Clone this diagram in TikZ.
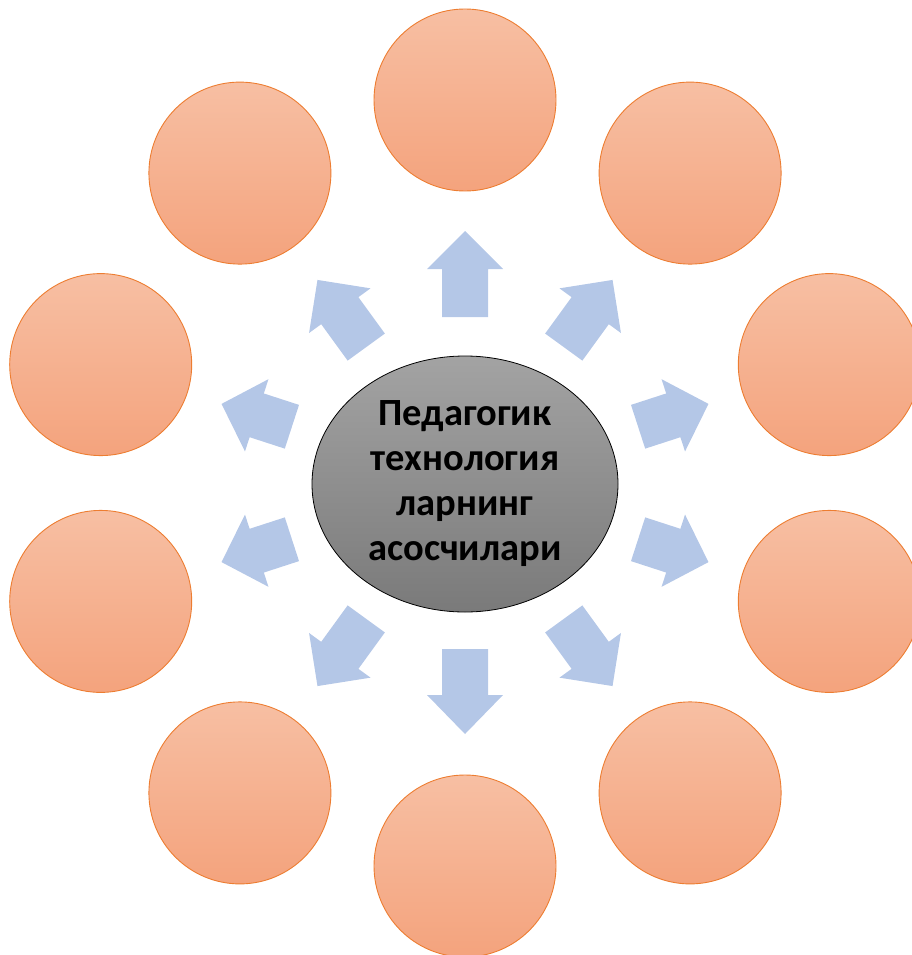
\documentclass[tikz,border=0pt]{standalone}
\usepackage{fontspec}
\setsansfont{Carlito}
\usepackage{tikz}
\usetikzlibrary{shapes.geometric}

\definecolor{petalTop}{RGB}{247,191,163}
\definecolor{petalBot}{RGB}{244,163,125}
\definecolor{petalLine}{RGB}{237,125,49}
\definecolor{coreTop}{RGB}{163,163,163}
\definecolor{coreBot}{RGB}{122,122,122}
\definecolor{arrowBlue}{RGB}{180,199,231}

\tikzset{
  petal/.style={circle, minimum size=182pt, inner sep=0pt, draw=petalLine, line width=0.9pt,
    top color=petalTop, bottom color=petalBot},
  core/.style={ellipse, minimum width=306pt, minimum height=256pt, inner sep=0pt, draw=black, line width=0.8pt,
    top color=coreTop, bottom color=coreBot, align=center,
    font=\sffamily\bfseries\fontsize{38.5}{45}\selectfont},
  blockarrow/.style={fill=arrowBlue, draw=none}
}

\begin{document}
\begin{tikzpicture}[x=1pt,y=1pt,yscale=-1,xscale=1]
\useasboundingbox (0,0) rectangle (911,955);

%Shape: Circles round the core
\node[petal] (top) at (465,100) {};
\node[petal] (topright) at (690.1,173.1) {};
\node[petal] (rightup) at (829.3,364.6) {};
\node[petal] (rightdown) at (829.3,601.4) {};
\node[petal] (botright) at (690.1,792.9) {};
\node[petal] (bot) at (465,866) {};
\node[petal] (botleft) at (239.9,792.9) {};
\node[petal] (leftdown) at (100.7,601.4) {};
\node[petal] (leftup) at (100.7,364.6) {};
\node[petal] (topleft) at (239.9,173.1) {};

%Shape: Ellipse in the middle
\node[core] (centre) at (465,484) {Педагогик\\технология\\ларнинг\\асосчилари};

%Block Arrows, up, down and the four slanted ones
\fill[blockarrow, shift={(465,483)}, rotate=90] (166,-23) -- (212,-23) -- (212,-38) -- (251,0) -- (212,38) -- (212,23) -- (166,23) -- cycle;
\fill[blockarrow, shift={(465,483)}, rotate=54] (168,-23) -- (213,-23) -- (213,-38) -- (251,0) -- (213,38) -- (213,23) -- (168,23) -- cycle;
\fill[blockarrow, shift={(465,483)}, rotate=-54] (168,-23) -- (213,-23) -- (213,-38) -- (251,0) -- (213,38) -- (213,23) -- (168,23) -- cycle;
\fill[blockarrow, shift={(465,483)}, rotate=-90] (166,-23) -- (214,-23) -- (214,-38) -- (252,0) -- (214,38) -- (214,23) -- (166,23) -- cycle;
\fill[blockarrow, shift={(465,483)}, rotate=-126] (168,-23) -- (213,-23) -- (213,-38) -- (251,0) -- (213,38) -- (213,23) -- (168,23) -- cycle;
\fill[blockarrow, shift={(465,483)}, rotate=126] (168,-23) -- (213,-23) -- (213,-38) -- (251,0) -- (213,38) -- (213,23) -- (168,23) -- cycle;

%Block Arrows, the four flatter ones (shorter)
\fill[blockarrow, shift={(465,483)}, rotate=18] (182,-23) -- (219,-23) -- (219,-38) -- (256,0) -- (219,38) -- (219,23) -- (182,23) -- cycle;
\fill[blockarrow, shift={(465,483)}, rotate=-18] (182,-23) -- (219,-23) -- (219,-38) -- (256,0) -- (219,38) -- (219,23) -- (182,23) -- cycle;
\fill[blockarrow, shift={(465,483)}, rotate=-162] (182,-23) -- (219,-23) -- (219,-38) -- (256,0) -- (219,38) -- (219,23) -- (182,23) -- cycle;
\fill[blockarrow, shift={(465,483)}, rotate=162] (182,-23) -- (219,-23) -- (219,-38) -- (256,0) -- (219,38) -- (219,23) -- (182,23) -- cycle;

\end{tikzpicture}
\end{document}
